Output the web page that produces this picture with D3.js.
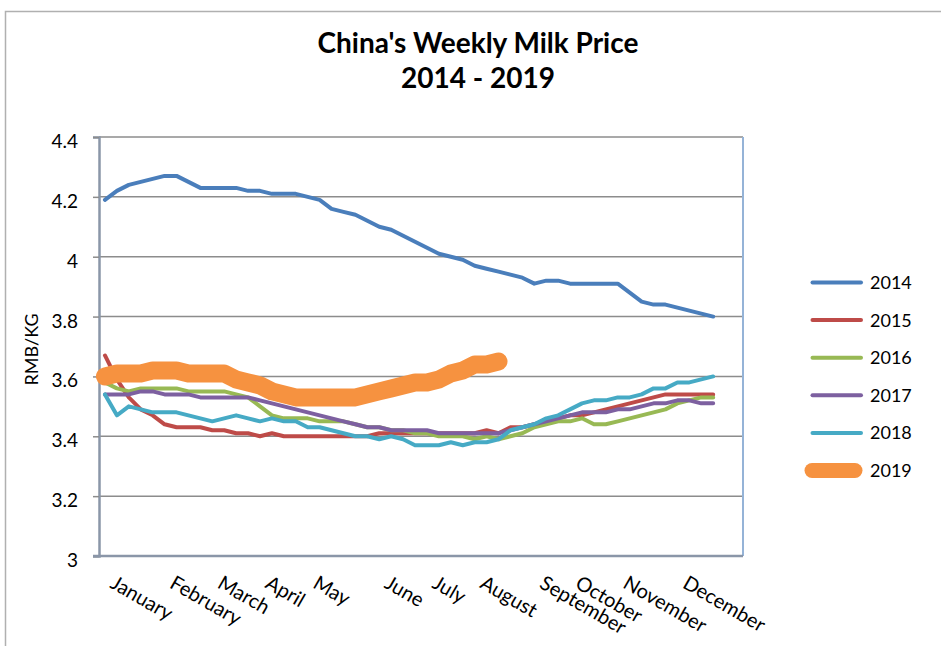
<!DOCTYPE html>
<html>
<head>
<meta charset="utf-8">
<script src="https://cdn.jsdelivr.net/npm/d3@7"></script>
<style>
  body { margin: 0; background: #fff; }
  svg { display: block; }
</style>
</head>
<body>
<div id="chart"></div>
<script>
// weekly price per year (RMB/KG)
const y2014 = [4.19, 4.22, 4.24, 4.25, 4.26, 4.27, 4.27, 4.25, 4.23, 4.23, 4.23, 4.23, 4.22, 4.22, 4.21, 4.21, 4.21, 4.20,
  4.19, 4.16, 4.15, 4.14, 4.12, 4.10, 4.09, 4.07, 4.05, 4.03, 4.01, 4.00, 3.99, 3.97, 3.96, 3.95, 3.94, 3.93,
  3.91, 3.92, 3.92, 3.91, 3.91, 3.91, 3.91, 3.91, 3.88, 3.85, 3.84, 3.84, 3.83, 3.82, 3.81, 3.80];
const y2015 = [3.67, 3.59, 3.53, 3.49, 3.47, 3.44, 3.43, 3.43, 3.43, 3.42, 3.42, 3.41, 3.41, 3.40, 3.41, 3.40, 3.40, 3.40,
  3.40, 3.40, 3.40, 3.40, 3.40, 3.41, 3.41, 3.41, 3.41, 3.41, 3.41, 3.41, 3.41, 3.41, 3.42, 3.41, 3.43, 3.43,
  3.44, 3.45, 3.46, 3.47, 3.47, 3.48, 3.49, 3.50, 3.51, 3.52, 3.53, 3.54, 3.54, 3.54, 3.54, 3.54];
const y2016 = [3.58, 3.56, 3.55, 3.56, 3.56, 3.56, 3.56, 3.55, 3.55, 3.55, 3.55, 3.54, 3.53, 3.50, 3.47, 3.46, 3.46, 3.46,
  3.45, 3.45, 3.45, 3.44, 3.43, 3.43, 3.42, 3.42, 3.41, 3.41, 3.40, 3.40, 3.40, 3.39, 3.40, 3.39, 3.40, 3.41,
  3.43, 3.44, 3.45, 3.45, 3.46, 3.44, 3.44, 3.45, 3.46, 3.47, 3.48, 3.49, 3.51, 3.52, 3.53, 3.53];
const y2017 = [3.54, 3.54, 3.54, 3.55, 3.55, 3.54, 3.54, 3.54, 3.53, 3.53, 3.53, 3.53, 3.53, 3.52, 3.51, 3.50, 3.49, 3.48,
  3.47, 3.46, 3.45, 3.44, 3.43, 3.43, 3.42, 3.42, 3.42, 3.42, 3.41, 3.41, 3.41, 3.41, 3.41, 3.41, 3.42, 3.43,
  3.44, 3.45, 3.46, 3.47, 3.48, 3.48, 3.48, 3.49, 3.49, 3.50, 3.51, 3.51, 3.52, 3.52, 3.51, 3.51];
const y2018 = [3.54, 3.47, 3.50, 3.49, 3.48, 3.48, 3.48, 3.47, 3.46, 3.45, 3.46, 3.47, 3.46, 3.45, 3.46, 3.45, 3.45, 3.43,
  3.43, 3.42, 3.41, 3.40, 3.40, 3.39, 3.40, 3.39, 3.37, 3.37, 3.37, 3.38, 3.37, 3.38, 3.38, 3.39, 3.42, 3.43,
  3.44, 3.46, 3.47, 3.49, 3.51, 3.52, 3.52, 3.53, 3.53, 3.54, 3.56, 3.56, 3.58, 3.58, 3.59, 3.60];
const y2019 = [3.60, 3.61, 3.61, 3.61, 3.62, 3.62, 3.62, 3.61, 3.61, 3.61, 3.61, 3.59, 3.58, 3.57, 3.55, 3.54, 3.53, 3.53,
  3.53, 3.53, 3.53, 3.53, 3.54, 3.55, 3.56, 3.57, 3.58, 3.58, 3.59, 3.61, 3.62, 3.64, 3.64, 3.65];

const years = ["2014", "2015", "2016", "2017", "2018", "2019"];
const colors = ["#4a7ebb", "#be4b48", "#98b954", "#7d60a0", "#46aac5", "#f69240"];
const widths = [4, 4, 4, 4, 4, 18];

// x categories: weeks, month names on the week they start
const weeks = d3.range(1, 55);
const monthWeeks = [1, 6, 10, 14, 18, 24, 28, 32, 37, 40, 44, 49];
const monthNames = ["January", "February", "March", "April", "May", "June", "July",
  "August", "September", "October", "November", "December"];
const yTicks = [3, 3.2, 3.4, 3.6, 3.8, 4, 4.2, 4.4];

const series = [y2014, y2015, y2016, y2017, y2018, y2019];

const largura = 941, altura = 646;
const margem = { superior: 137, inferior: 90, esquerda: 99, direita: 198 };
const fonte = "Lato, 'Open Sans', sans-serif";

const svg = d3.select("#chart").append("svg")
    .attr("width", largura)
    .attr("height", altura)
    .attr("viewBox", [0, 0, largura, altura]);

// outer chart frame
svg.append("rect")
    .attr("x", 5.5).attr("y", 11.5)
    .attr("width", 1000).attr("height", 1000)
    .attr("fill", "none")
    .attr("stroke", "#b0b0b0")
    .attr("stroke-width", 1.5);

// title
svg.append("g")
    .attr("font-family", fonte)
    .attr("font-weight", 700)
    .attr("font-size", 28)
    .attr("text-anchor", "middle")
    .attr("fill", "#000")
  .selectAll("text")
  .data(["China's Weekly Milk Price", "2014 - 2019"])
  .join("text")
    .attr("x", 478)
    .attr("y", (d, i) => 53 + i * 35)
    .text(d => d);

// scales
const x = d3.scaleBand(weeks, [margem.esquerda, largura - margem.direita]);
const xp = w => x(w) + x.bandwidth() / 2;
const y = d3.scaleLinear([3, 4.4], [altura - margem.inferior, margem.superior]);

// gridlines
svg.append("g")
    .attr("stroke", "#8c8c8c")
    .attr("stroke-width", 1.5)
  .selectAll("line")
  .data(yTicks.filter(d => d > 3))
  .join("line")
    .attr("x1", margem.esquerda)
    .attr("x2", largura - margem.direita)
    .attr("y1", d => y(d))
    .attr("y2", d => y(d));

// right border of plot area
svg.append("line")
    .attr("x1", largura - margem.direita).attr("x2", largura - margem.direita)
    .attr("y1", margem.superior).attr("y2", y(3))
    .attr("stroke", "#95b3d7")
    .attr("stroke-width", 2);

// y axis
svg.append("g")
    .attr("transform", `translate(${margem.esquerda},0)`)
    .call(d3.axisLeft(y).tickValues(yTicks).tickFormat(d3.format("~g")).tickSize(6).tickPadding(15))
    .call(g => g.select(".domain").attr("stroke", "#8a96a8").attr("stroke-width", 2.5))
    .call(g => g.selectAll(".tick line").attr("stroke", "#8c8c8c").attr("stroke-width", 1.5))
    .call(g => g.selectAll(".tick text")
        .attr("font-family", fonte)
        .attr("font-size", 19)
        .attr("fill", "#000")
        .attr("dy", "0.55em"));

// y axis title
svg.append("text")
    .attr("transform", `translate(38,${(margem.superior + y(3)) / 2 + 3}) rotate(-90)`)
    .attr("text-anchor", "middle")
    .attr("font-family", fonte)
    .attr("font-size", 18)
    .attr("fill", "#000")
    .text("RMB/KG");

// x axis line
svg.append("line")
    .attr("x1", margem.esquerda - 6).attr("x2", largura - margem.direita)
    .attr("y1", y(3)).attr("y2", y(3))
    .attr("stroke", "#8a96a8")
    .attr("stroke-width", 2.5);

// month labels
svg.append("g")
    .attr("font-family", fonte)
    .attr("font-size", 20)
    .attr("fill", "#000")
  .selectAll("text")
  .data(monthWeeks)
  .join("text")
    .attr("transform", w => `translate(${xp(w) + 4},${y(3) + 31}) rotate(30)`)
    .text((w, i) => monthNames[i]);

// lines
const linha = d3.line()
    .x((d, i) => xp(weeks[i]))
    .y(d => y(d));

svg.append("g")
    .attr("fill", "none")
    .attr("stroke-linejoin", "round")
    .attr("stroke-linecap", "round")
  .selectAll("path")
  .data(series)
  .join("path")
    .attr("stroke", (d, i) => colors[i])
    .attr("stroke-width", (d, i) => widths[i])
    .attr("d", linha);

// legend
const legenda = svg.append("g")
    .attr("font-family", fonte)
    .attr("font-size", 18)
  .selectAll("g")
  .data(years)
  .join("g")
    .attr("transform", (d, i) => `translate(0,${282.5 + i * 37.6})`);

legenda.append("line")
    .attr("x1", (d, i) => i === 5 ? 812 : 812.5)
    .attr("x2", (d, i) => i === 5 ? 855 : 861)
    .attr("stroke", (d, i) => colors[i])
    .attr("stroke-width", (d, i) => i === 5 ? 15 : 4)
    .attr("stroke-linecap", "round");

legenda.append("text")
    .attr("x", 870)
    .attr("dy", "0.36em")
    .attr("fill", "#000")
    .text(d => d);
</script>
</body>
</html>
